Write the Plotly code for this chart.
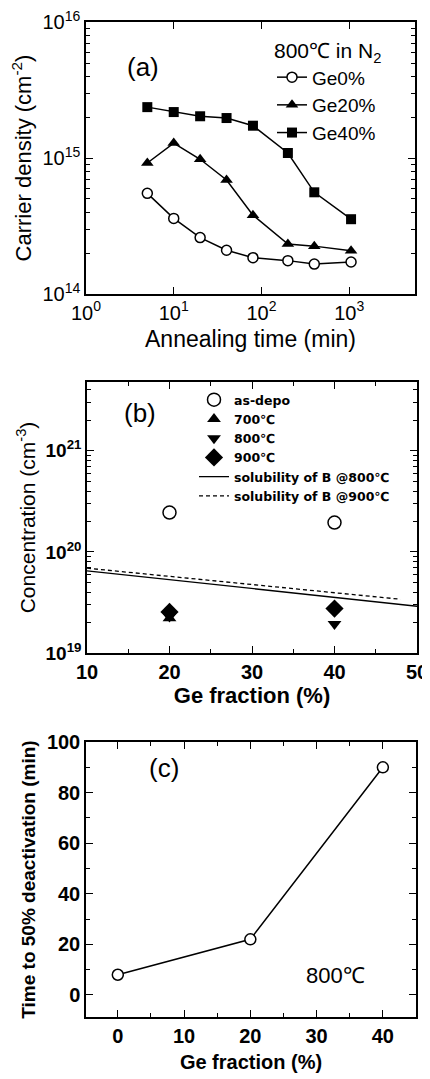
import plotly.graph_objects as go

# (a) sheet carrier density vs annealing time at 800C in N2
anneal_time = [5, 10, 20, 40, 80, 200, 400, 1050]
ge0 = [5.5e14, 3.6e14, 2.6e14, 2.1e14, 1.85e14, 1.76e14, 1.66e14, 1.72e14]
ge20 = [9.2e14, 1.29e15, 9.8e14, 6.9e14, 3.8e14, 2.33e14, 2.25e14, 2.08e14]
ge40 = [2.37e15, 2.18e15, 2.03e15, 1.97e15, 1.73e15, 1.09e15, 5.6e14, 3.55e14]

# (b) B concentration vs Ge fraction
ge_b = [20, 40]
as_depo = [2.45e20, 1.95e20]
c700 = [2.2e19, 2.9e19]
c800 = [2.3e19, 1.93e19]
c900 = [2.55e19, 2.75e19]
sol800_x = [10, 50]
sol800_y = [6.5e19, 2.9e19]
sol900_x = [10, 48]
sol900_y = [6.9e19, 3.4e19]

# (c) time to 50% deactivation
ge_c = [0, 20, 40]
t50 = [8, 22, 90]

# tick labels
a_xvals = [1, 10, 100, 1000]
a_xtext = ["10<sup>0</sup>", "10<sup>1</sup>", "10<sup>2</sup>", "10<sup>3</sup>"]
a_yvals = [1e14, 1e15, 1e16]
a_ytext = ["10<sup>14</sup>", "10<sup>15</sup>", "10<sup>16</sup>"]
b_yvals = [1e19, 1e20, 1e21]
b_ytext = ["10<sup>19</sup>", "10<sup>20</sup>", "10<sup>21</sup>"]

FONT = "Liberation Sans"
# the page body has an 8px margin, so the figure starts at (8, 8) in the window
OFF = 8
W, H = 430 - OFF, 1079 - OFF


def px_x(p):
    return (p - OFF) / W


def px_y(p):
    return 1 - (p - OFF) / H


fig = go.Figure()

line = dict(color="black", width=1.5)
fig.add_trace(go.Scatter(x=anneal_time, y=ge0, name="Ge0%", mode="lines+markers", line=line,
                         marker=dict(symbol="circle", size=10, color="white", line=dict(width=1.5, color="black")),
                         xaxis="x", yaxis="y", legend="legend"))
fig.add_trace(go.Scatter(x=anneal_time, y=ge20, name="Ge20%", mode="lines+markers", line=line,
                         marker=dict(symbol="triangle-up", size=11, color="black"),
                         xaxis="x", yaxis="y", legend="legend"))
fig.add_trace(go.Scatter(x=anneal_time, y=ge40, name="Ge40%", mode="lines+markers", line=line,
                         marker=dict(symbol="square", size=10, color="black"),
                         xaxis="x", yaxis="y", legend="legend"))

fig.add_trace(go.Scatter(x=ge_b, y=as_depo, name="as-depo", mode="markers",
                         marker=dict(symbol="circle-open", size=13, color="black", line=dict(width=1.5)),
                         xaxis="x2", yaxis="y2", legend="legend2"))
fig.add_trace(go.Scatter(x=ge_b, y=c700, name="700℃", mode="markers",
                         marker=dict(symbol="triangle-up", size=12, color="black"),
                         xaxis="x2", yaxis="y2", legend="legend2"))
fig.add_trace(go.Scatter(x=ge_b, y=c800, name="800℃", mode="markers",
                         marker=dict(symbol="triangle-down", size=12, color="black"),
                         xaxis="x2", yaxis="y2", legend="legend2"))
fig.add_trace(go.Scatter(x=ge_b, y=c900, name="900℃", mode="markers",
                         marker=dict(symbol="diamond", size=14, color="black"),
                         xaxis="x2", yaxis="y2", legend="legend2"))
fig.add_trace(go.Scatter(x=sol800_x, y=sol800_y, name="solubility of B @800℃", mode="lines",
                         line=dict(color="black", width=1.3),
                         xaxis="x2", yaxis="y2", legend="legend2"))
fig.add_trace(go.Scatter(x=sol900_x, y=sol900_y, name="solubility of B @900℃", mode="lines",
                         line=dict(color="black", width=1.3, dash="4px,3px"),
                         xaxis="x2", yaxis="y2", legend="legend2"))

fig.add_trace(go.Scatter(x=ge_c, y=t50, mode="lines+markers", showlegend=False, line=line,
                         marker=dict(symbol="circle", size=11, color="white", line=dict(width=1.5, color="black")),
                         xaxis="x3", yaxis="y3"))

axis_common = dict(showgrid=False, zeroline=False, showline=True, linecolor="black", linewidth=1.5,
                   mirror="ticks", ticks="inside", tickcolor="black", tickwidth=1.2, ticklen=7,
                   automargin=False, ticklabeloverflow="allow",
                   tickfont=dict(family=FONT, size=20, color="black"))
minor_common = dict(ticks="inside", ticklen=4, tickcolor="black", showgrid=False)

fig.update_layout(
    template="none",
    width=W, height=H,
    margin=dict(l=0, r=0, t=0, b=0),
    paper_bgcolor="white", plot_bgcolor="white",
    font=dict(family=FONT, color="black"),
    showlegend=True,
    xaxis=dict(axis_common, type="log", range=[0, 3.75], domain=[px_x(86), px_x(415)],
               tickvals=a_xvals, ticktext=a_xtext, anchor="y",
               title=dict(text="Annealing time (min)", font=dict(size=23), standoff=8)),
    yaxis=dict(axis_common, type="log", range=[14, 16.001], domain=[px_y(294), px_y(22)],
               tickvals=a_yvals, ticktext=a_ytext, anchor="x",
               minor=dict(minor_common, dtick="D1"),
               title=dict(text="Carrier density (cm<sup>-2</sup>)", font=dict(size=22), standoff=8)),
    xaxis2=dict(axis_common, range=[10, 50], domain=[px_x(87), px_x(417)], dtick=10, anchor="y2",
                tickfont=dict(family=FONT, size=20, color="black", weight="bold"),
                minor=dict(minor_common, dtick=5),
                title=dict(text="Ge fraction (%)", font=dict(size=22, weight="bold"), standoff=4)),
    yaxis2=dict(axis_common, type="log", range=[19, 21.68], domain=[px_y(653), px_y(382)],
                tickvals=b_yvals, ticktext=b_ytext, anchor="x2",
                tickfont=dict(family=FONT, size=19, color="black", weight="bold"),
                minor=dict(minor_common, dtick="D1"),
                title=dict(text="Concentration (cm<sup>-3</sup>)", font=dict(size=21), standoff=4)),
    xaxis3=dict(axis_common, range=[-4.8, 45], domain=[px_x(86), px_x(416)], dtick=10, anchor="y3",
                tickfont=dict(family=FONT, size=20, color="black", weight="bold"),
                minor=dict(minor_common, dtick=5),
                title=dict(text="Ge fraction (%)", font=dict(size=20, weight="bold"), standoff=9)),
    yaxis3=dict(axis_common, range=[-8.7, 100], domain=[px_y(1017), px_y(742)], dtick=20, anchor="x3",
                tickfont=dict(family=FONT, size=20, color="black", weight="bold"),
                minor=dict(minor_common, dtick=10),
                title=dict(text="Time to 50% deactivation (min)", font=dict(size=19, weight="bold"),
                           standoff=6)),
    legend=dict(x=px_x(272), y=px_y(31), xanchor="left", yanchor="top", bgcolor="rgba(0,0,0,0)",
                font=dict(family=FONT, size=19, color="black"), tracegroupgap=0,
                title=dict(text="800℃ in N<sub>2</sub>", side="top", font=dict(size=21))),
    legend2=dict(x=px_x(194), y=px_y(385), xanchor="left", yanchor="top", bgcolor="rgba(0,0,0,0)",
                 font=dict(family="DejaVu Sans", size=12.5, color="black", weight="bold"), tracegroupgap=0),
    annotations=[
        dict(text="(a)", x=px_x(125), y=px_y(50), xref="paper", yref="paper", showarrow=False,
             font=dict(size=26)),
        dict(text="(b)", x=px_x(122), y=px_y(413), xref="paper", yref="paper", showarrow=False,
             font=dict(size=26)),
        dict(text="(c)", x=px_x(147), y=px_y(785), xref="paper", yref="paper", showarrow=False,
             font=dict(size=26)),
        dict(text="800℃", x=px_x(367), y=px_y(990), xref="paper", yref="paper", showarrow=False,
             font=dict(size=22)),
    ],
)

fig.write_html("out.html")
